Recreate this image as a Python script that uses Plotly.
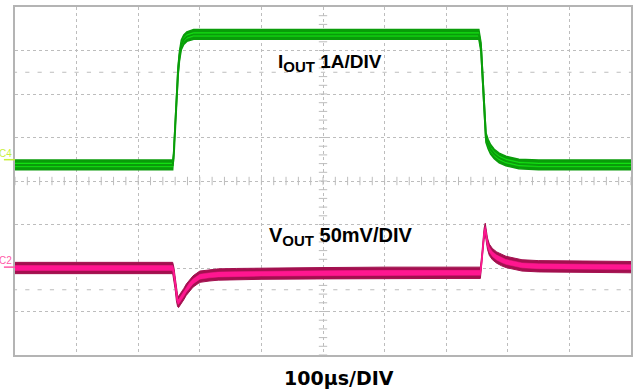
import numpy as np
import plotly.graph_objects as go

# Time base (µs) and channel readings
t_iout = [0, 256, 257.5, 259, 260.5, 262.5, 264.7, 267, 270, 274, 279, 290, 400, 500,
          600, 700, 753, 756.5, 759, 762, 764.5, 768, 772, 778, 786, 797, 818, 850, 1000]
iout_a = [0, 0, 0.15, 0.6, 1.0, 1.6, 2.15, 2.5, 2.76, 2.88, 2.95, 3.0, 3.0, 3.0,
          3.0, 3.0, 3.0, 2.7, 2.0, 1.2, 0.63, 0.48, 0.36, 0.25, 0.16, 0.09, 0.02, 0.0, 0.0]

t_vout = [0, 256, 258, 260, 262, 264, 265.5, 267.5, 270, 274, 278, 283, 289, 300, 315,
          330, 360, 400, 500, 600, 700, 755.5, 757.5, 759.5, 761.5, 763.4, 765, 767, 770,
          775, 782, 790, 797, 810, 823, 850, 900, 1000]
vout_mv = [0, 0, -6, -18, -31, -38, -39, -37, -34, -30, -25, -20, -15.5, -10, -8.5,
           -7.5, -7, -6.5, -6, -5.5, -5.5, -5.5, 7, 25, 39, 45, 38, 28, 21,
           16, 12, 9, 7, 5, 3, 2, 1.5, 1]

# Scope settings
TIME_DIV_US = 100
IOUT_DIV_A = 1
VOUT_DIV_MV = 50
N_XDIV, N_YDIV = 10, 8
IOUT_ZERO_DIV = 0.37      # screen position of 0 A (divisions from centre)
VOUT_ZERO_DIV = -2.0      # screen position of 0 mV
TRIG_T_US = 259
TRIG_LEVEL_A = 0.93

GRID = "#bdbdbd"
FRAME = "#b4b4b4"
GREEN_DARK, GREEN_LIGHT = "#0a9c0a", "#14e014"
PINK_DARK, PINK_LIGHT = "#a3104f", "#ff1790"


def band(x, y, half):
    x = list(x)
    y = np.asarray(y, dtype=float)
    return x + x[::-1], list(y + half) + list((y - half)[::-1])


fig = go.Figure()

# --- graticule decorations (centre-line ticks and quarter-screen dot rows) ---
xt = np.arange(0, N_XDIV * TIME_DIV_US + 1, TIME_DIV_US / 5)
v_center = -VOUT_ZERO_DIV * VOUT_DIV_MV
fig.add_trace(go.Scatter(x=xt, y=[v_center] * len(xt), mode="markers", yaxis="y",
                         marker=dict(symbol="line-ns", size=6, line=dict(color=GRID, width=1)),
                         hoverinfo="skip", showlegend=False))
for row in (2.5, -2.5):
    fig.add_trace(go.Scatter(x=xt, y=[(row - VOUT_ZERO_DIV) * VOUT_DIV_MV] * len(xt),
                             mode="markers", yaxis="y",
                             marker=dict(symbol="line-ew", size=3, line=dict(color=GRID, width=1)),
                             hoverinfo="skip", showlegend=False))
yt = np.arange(-N_YDIV / 2, N_YDIV / 2 + 0.01, 0.2)
fig.add_trace(go.Scatter(x=[N_XDIV / 2 * TIME_DIV_US] * len(yt),
                         y=(yt - VOUT_ZERO_DIV) * VOUT_DIV_MV, mode="markers", yaxis="y",
                         marker=dict(symbol="line-ew", size=6, line=dict(color=GRID, width=1)),
                         hoverinfo="skip", showlegend=False))

# --- C2: output voltage (pink) ---
bx, by = band(t_vout, vout_mv, 6.5)
fig.add_trace(go.Scatter(x=bx, y=by, fill="toself", fillcolor=PINK_DARK, mode="lines",
                         line=dict(color=PINK_DARK, width=1), yaxis="y",
                         hoverinfo="skip", showlegend=False))
bx, by = band(t_vout, vout_mv, 2.8)
fig.add_trace(go.Scatter(x=bx, y=by, fill="toself", fillcolor=PINK_LIGHT, mode="lines",
                         line=dict(color=PINK_LIGHT, width=0.5), yaxis="y",
                         hoverinfo="skip", showlegend=False))
fig.add_trace(go.Scatter(x=t_vout, y=vout_mv, mode="lines", yaxis="y",
                         line=dict(color=PINK_LIGHT, width=1.5),
                         hoverinfo="skip", showlegend=False))

# --- C4: output current (green) ---
bx, by = band(t_iout, iout_a, 0.11)
fig.add_trace(go.Scatter(x=bx, y=by, fill="toself", fillcolor=GREEN_DARK, mode="lines",
                         line=dict(color=GREEN_DARK, width=1.5), yaxis="y2",
                         hoverinfo="skip", showlegend=False))
bx, by = band(t_iout, iout_a, 0.045)
fig.add_trace(go.Scatter(x=bx, y=by, fill="toself", fillcolor=GREEN_LIGHT, mode="lines",
                         line=dict(color=GREEN_LIGHT, width=0.5), yaxis="y2",
                         hoverinfo="skip", showlegend=False))
fig.add_trace(go.Scatter(x=t_iout, y=iout_a, mode="lines", yaxis="y2",
                         line=dict(color=GREEN_DARK, width=2),
                         hoverinfo="skip", showlegend=False))

# --- trigger markers ---
fig.add_trace(go.Scatter(x=[TRIG_T_US], y=[(-4.14 - VOUT_ZERO_DIV) * VOUT_DIV_MV],
                         mode="markers", yaxis="y", cliponaxis=False,
                         marker=dict(symbol="triangle-up", size=7, color="#22dd22"),
                         hoverinfo="skip", showlegend=False))
fig.add_trace(go.Scatter(x=[N_XDIV * TIME_DIV_US + 5], y=[TRIG_LEVEL_A],
                         mode="markers", yaxis="y2", cliponaxis=False,
                         marker=dict(symbol="triangle-left", size=7, color="#22dd22"),
                         hoverinfo="skip", showlegend=False))

# channel reference markers in the left margin
fig.add_shape(type="line", xref="paper", x0=-0.018, x1=0, yref="y2", y0=0.12, y1=0.12,
              line=dict(color="#c8f03c", width=1.5))
fig.add_annotation(xref="paper", x=-0.002, yref="y2", y=0.12, text="C4", showarrow=False,
                   xanchor="right", yanchor="bottom", yshift=-1,
                   font=dict(family="Liberation Sans, Arial", size=10, color="#c8f03c"))
fig.add_shape(type="line", xref="paper", x0=-0.018, x1=0, yref="y", y0=1, y1=1,
              line=dict(color="#ff5aa8", width=1.5))
fig.add_annotation(xref="paper", x=-0.002, yref="y", y=1, text="C2", showarrow=False,
                   xanchor="right", yanchor="bottom", yshift=-1,
                   font=dict(family="Liberation Sans, Arial", size=10, color="#ff5aa8"))

# channel / timebase labels
label_font = dict(family="Liberation Sans, Arial", size=19, color="black")
sub = '<sub><span style="font-size:15px">OUT</span></sub>'
fig.add_annotation(xref="paper", yref="paper", x=0.512, y=0.84, xanchor="center",
                   yanchor="middle", text=f"<b>I{sub} {IOUT_DIV_A}A/DIV</b>",
                   showarrow=False, font=label_font)
fig.add_annotation(xref="paper", yref="paper", x=0.528, y=0.34, xanchor="center",
                   yanchor="middle", text=f"<b>V{sub} {VOUT_DIV_MV}mV/DIV</b>",
                   showarrow=False, font=dict(family="Liberation Sans, Arial", size=20,
                                               color="black"))
fig.add_annotation(xref="paper", yref="paper", x=0.526, y=-0.066, xanchor="center",
                   yanchor="middle", text=f"<b>{TIME_DIV_US}µs/DIV</b>", showarrow=False,
                   font=dict(family="DejaVu Sans", size=19, color="black"))

fig.update_layout(
    width=638, height=390,
    margin=dict(l=15, r=5, t=6, b=35),
    paper_bgcolor="white", plot_bgcolor="white",
    xaxis=dict(range=[0, N_XDIV * TIME_DIV_US], dtick=TIME_DIV_US, showticklabels=False,
               showgrid=True, gridcolor=GRID, griddash="dot", gridwidth=1,
               zeroline=False, showline=True, mirror=True, linecolor=FRAME, linewidth=2,
               ticks=""),
    yaxis=dict(range=[(-N_YDIV / 2 - VOUT_ZERO_DIV) * VOUT_DIV_MV,
                      (N_YDIV / 2 - VOUT_ZERO_DIV) * VOUT_DIV_MV],
               dtick=VOUT_DIV_MV, showticklabels=False,
               showgrid=True, gridcolor=GRID, griddash="dot", gridwidth=1,
               zeroline=False, showline=True, mirror=True, linecolor=FRAME, linewidth=2,
               ticks=""),
    yaxis2=dict(range=[(-N_YDIV / 2 - IOUT_ZERO_DIV) * IOUT_DIV_A,
                       (N_YDIV / 2 - IOUT_ZERO_DIV) * IOUT_DIV_A],
                overlaying="y", showgrid=False, showticklabels=False, zeroline=False,
                ticks=""),
)

fig.write_html("out.html")
